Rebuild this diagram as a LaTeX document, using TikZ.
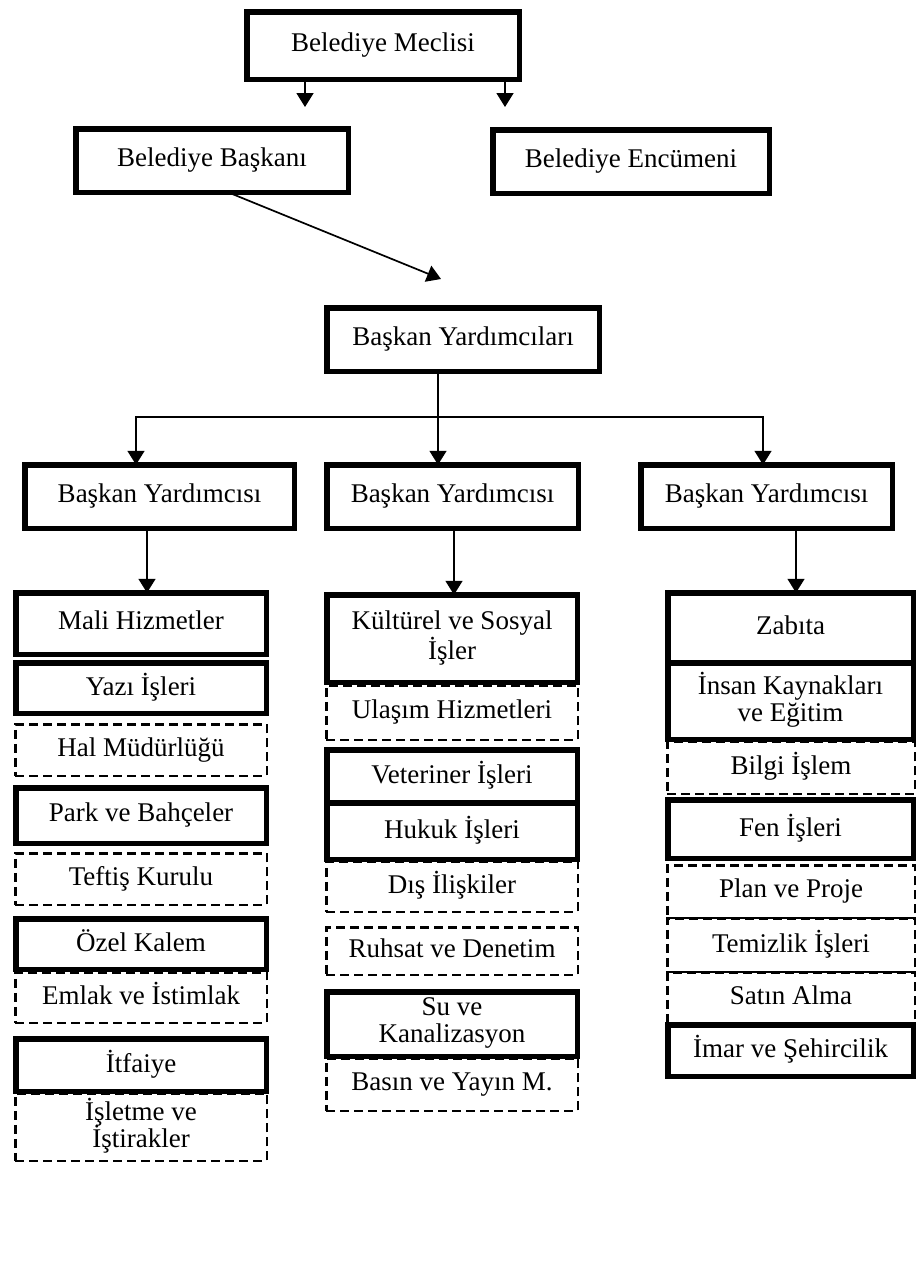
\documentclass[tikz,border=0pt]{standalone}
\usepackage{fontspec}
\setmainfont{Liberation Serif}
\usetikzlibrary{arrows.meta}

% line strut: keeps every text line the same height and depth
\newcommand\unitstrut{\rule[-7.5pt]{0pt}{27pt}}

\tikzset{
  unit/.style={inner sep=0pt, outer sep=0pt, align=center,
    font={\fontsize{27}{27}\selectfont\lineskiplimit=-50pt},
    execute at begin node=\unitstrut, execute at end node=\unitstrut},
  solidunit/.style={unit, draw},
  dashunit/.style={unit, draw, dash pattern=on 9pt off 5pt},
  link/.style={line width=1.7pt, -{Triangle[length=14pt,width=17pt]}}
}

% box from its outer edges: style, border width, name, x1, y1, x2, y2, text
\newcommand\orgbox[8]{%
  \pgfmathsetmacro\orgW{#6-#4-#2}%
  \pgfmathsetmacro\orgH{#7-#5-#2}%
  \node[#1, line width=#2pt, minimum width=\orgW pt, minimum height=\orgH pt]
    (#3) at ({(#4+#6)/2},{(#5+#7)/2}) {#8};}
\newcommand\solidunit[6]{\orgbox{solidunit}{5.5}{#1}{#2}{#3}{#4}{#5}{#6}}
\newcommand\dashunit[6]{\orgbox{dashunit}{2.5}{#1}{#2}{#3}{#4}{#5}{#6}}

\begin{document}
\begin{tikzpicture}[x=1pt, y=-1pt]
\fill[white] (0,0) rectangle (916,1272);
\useasboundingbox (0,0) rectangle (916,1272);

% top levels
\solidunit{meclis}{244}{9}{522}{82}{Belediye Meclisi}
\solidunit{baskan}{73}{126}{351}{195}{Belediye Başkanı}
\solidunit{encumen}{490}{127}{772}{196}{Belediye Encümeni}
\solidunit{yard}{324}{305}{602}{374}{Başkan Yardımcıları}
\solidunit{byl}{22}{462}{297}{531}{Başkan Yardımcısı}
\solidunit{bym}{324}{462}{581}{531}{Başkan Yardımcısı}
\solidunit{byr}{638}{462}{895}{531}{Başkan Yardımcısı}

% left column
\solidunit{mali}{13}{590}{269}{657}{Mali Hizmetler}
\solidunit{yazi}{13}{660}{269}{716}{Yazı İşleri}
\dashunit{hal}{14}{723}{268}{777}{Hal Müdürlüğü}
\solidunit{park}{13}{785}{269}{846}{Park ve Bahçeler}
\dashunit{teftis}{14}{852}{268}{906}{Teftiş Kurulu}
\solidunit{ozel}{13}{916}{269}{972}{Özel Kalem}
\dashunit{emlak}{14}{971}{268}{1024}{Emlak ve İstimlak}
\solidunit{itfaiye}{13}{1036}{269}{1094}{İtfaiye}
\dashunit{isletme}{14}{1092}{268}{1162}{İşletme ve\\İştirakler}

% middle column
\solidunit{kultur}{324}{592}{580}{685}{Kültürel ve Sosyal\\[3pt]İşler}
\dashunit{ulasim}{325}{684}{579}{741}{Ulaşım Hizmetleri}
\solidunit{veteriner}{324}{747}{580}{806}{Veteriner İşleri}
\solidunit{hukuk}{324}{800}{580}{862}{Hukuk İşleri}
\dashunit{dis}{325}{860}{579}{913}{Dış İlişkiler}
\dashunit{ruhsat}{325}{926}{579}{976}{Ruhsat ve Denetim}
\solidunit{su}{324}{989}{580}{1059}{Su ve\\Kanalizasyon}
\dashunit{basin}{325}{1057}{579}{1112}{Basın ve Yayın M.}

% right column
\solidunit{zabita}{665}{590}{916}{666}{Zabıta}
\solidunit{insan}{665}{660}{916}{742}{İnsan Kaynakları\\ve Eğitim}
\dashunit{bilgi}{666}{740}{916}{795}{Bilgi İşlem}
\solidunit{fen}{665}{797}{916}{861}{Fen İşleri}
\dashunit{plan}{666}{864}{916}{919}{Plan ve Proje}
\dashunit{temizlik}{666}{917}{916}{973}{Temizlik İşleri}
\dashunit{satin}{666}{971}{916}{1025}{Satın Alma}
\solidunit{imar}{665}{1022}{916}{1079}{İmar ve Şehircilik}

% connectors
\coordinate (m1) at (305,107);
\coordinate (m2) at (505,107);
\draw[link] (meclis.south -| m1) -- (m1);
\draw[link] (meclis.south -| m2) -- (m2);

\coordinate (d1) at (441,279);
\draw[link] ([xshift=16pt]baskan.south) -- (d1);

\coordinate (hub) at (438,417);
\coordinate (hl) at (136,417);
\coordinate (hr) at (763,417);
\draw[link] (yard.south -| hub) -- (bym.north -| hub);
\draw[link] (hub) -- (hl) -- (byl.north -| hl);
\draw[link] (hub) -- (hr) -- (byr.north -| hr);

\coordinate (cl) at (147,0);
\coordinate (cm) at (454,0);
\coordinate (cr) at (796,0);
\draw[link] (byl.south -| cl) -- (mali.north -| cl);
\draw[link] (bym.south -| cm) -- (kultur.north -| cm);
\draw[link] (byr.south -| cr) -- (zabita.north -| cr);
\end{tikzpicture}
\end{document}
